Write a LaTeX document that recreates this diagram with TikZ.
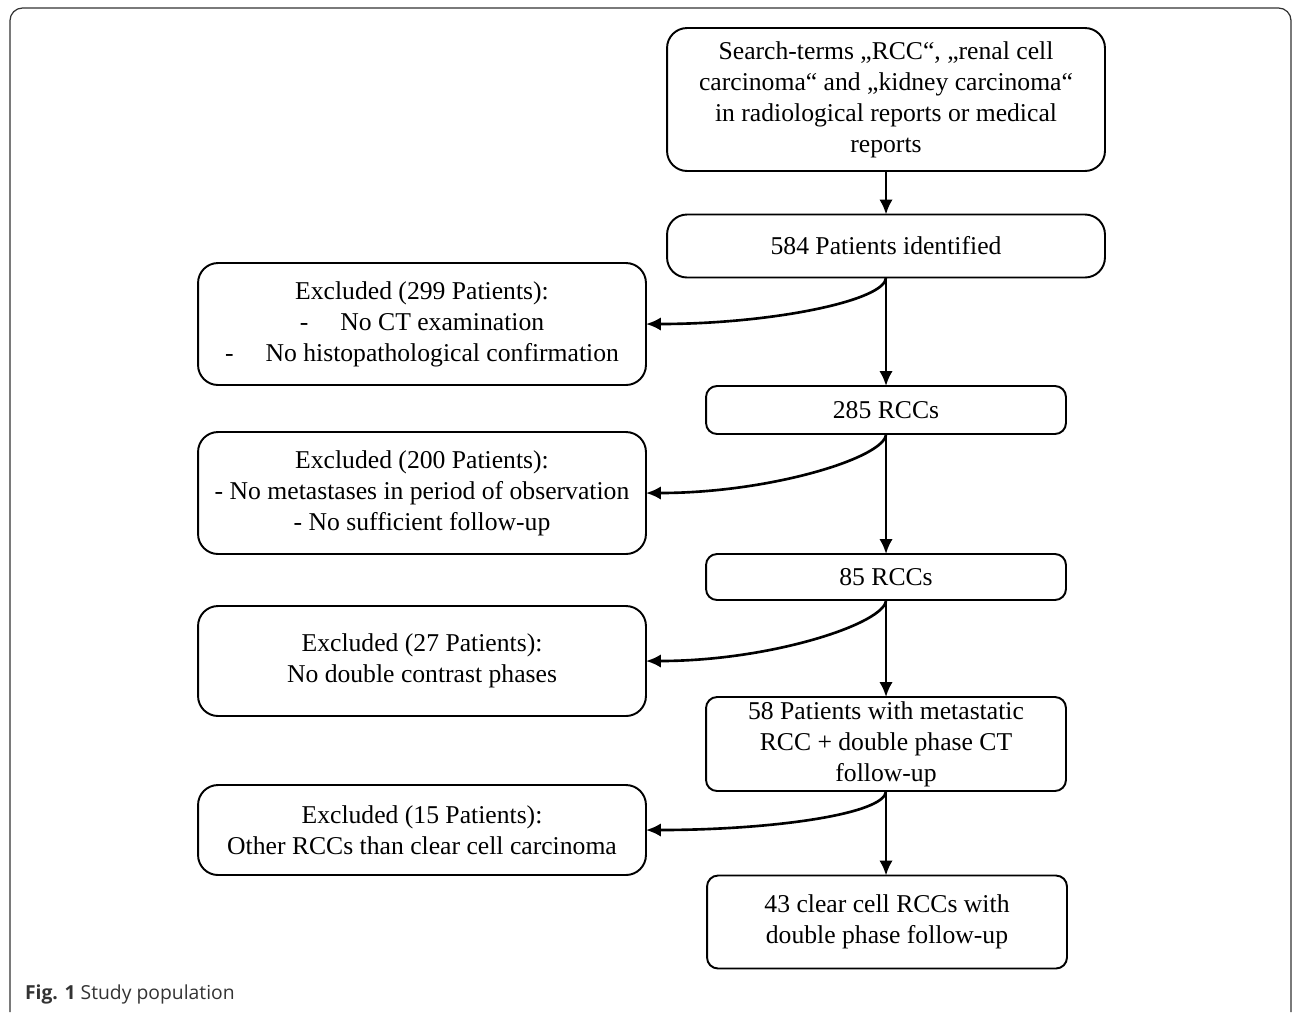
\documentclass[tikz,border=0pt]{standalone}
\usepackage{fontspec}
\setmainfont{Liberation Serif}
\newfontfamily\captionfont{Open Sans}
\usetikzlibrary{arrows.meta}

\begin{document}
\begin{tikzpicture}[x=0.02cm,y=-0.02cm,every node/.style={draw,outer sep=0pt,line width=1.1pt,align=center,inner sep=0pt,font=\fontsize{14.6}{17.6}\selectfont}]

\tikzstyle{bigbox}=[rounded corners=0.4cm]
\tikzstyle{smallbox}=[rounded corners=0.22cm,minimum width=7.2cm]
\tikzstyle{excl}=[rounded corners=0.4cm,minimum width=8.96cm]
\tikzstyle{flow}=[-{Latex[length=0.3cm,width=0.27cm]},line width=1.5pt]

\useasboundingbox (0,0) rectangle (1293,1012);
\draw[black!80,line width=0.7pt,rounded corners=0.25cm] (10,1012) -- (10,8) -- (1291,8) -- (1291,1012);

% main column
\node (search) at (886,99.5) [bigbox,minimum width=8.76cm,minimum height=2.86cm] {Search-terms „RCC“, „renal cell\\carcinoma“ and „kidney carcinoma“\\in radiological reports or medical\\reports};
\node (ident) at (886,246) [bigbox,minimum width=8.76cm,minimum height=1.26cm] {584 Patients identified};
\node (rccA) at (886,410) [smallbox,minimum height=0.96cm] {285 RCCs};
\node (rccB) at (886,577) [smallbox,minimum height=0.92cm] {85 RCCs};
\node (meta) at (886,744) [smallbox,minimum height=1.88cm] {58 Patients with metastatic\\RCC + double phase CT\\follow-up};
\node (clear) at (887,922) [smallbox,minimum height=1.86cm] {43 clear cell RCCs with\\double phase follow-up};

% excluded
\node (exA) at (422,324) [excl,minimum height=2.44cm] {Excluded (299 Patients):\\-\hspace{0.64cm}No CT examination\\-\hspace{0.64cm}No histopathological confirmation};
\node (exB) at (422,493) [excl,minimum height=2.44cm] {Excluded (200 Patients):\\- No metastases in period of observation\\- No sufficient follow-up};
\node (exC) at (422,661) [excl,minimum height=2.2cm] {Excluded (27 Patients):\\No double contrast phases};
\node (exD) at (422,830) [excl,minimum height=1.8cm] {Excluded (15 Patients):\\Other RCCs than clear cell carcinoma};

% arrows
\draw[flow] (search) -- (ident);
\draw[flow] (ident) -- (rccA);
\draw[flow] (rccA) -- (rccB);
\draw[flow] (rccB) -- (meta);
\draw[flow] (meta.south) -- (clear.north -| meta.south);
\foreach \a/\b in {ident/exA,rccA/exB,rccB/exC,meta/exD} {
    \draw[flow] (\a.south) .. controls +(0,23) and +(126,0) .. (\b.east);
}

\node (caption) at (25,994) [draw=none,anchor=west,text=black!80,font=\captionfont\fontsize{11}{13}\selectfont] {\textbf{Fig. 1} Study population};
\end{tikzpicture}
\end{document}
